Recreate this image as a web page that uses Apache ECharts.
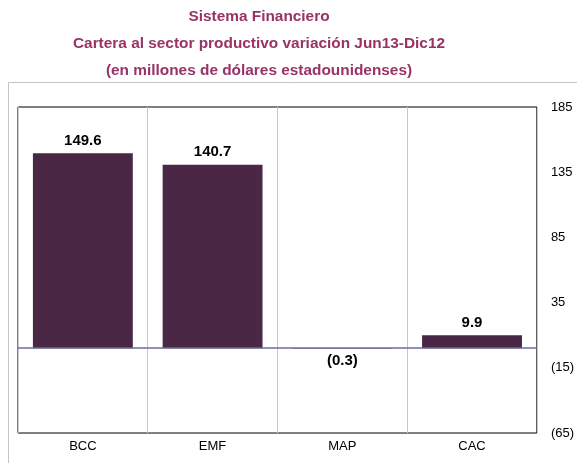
<!DOCTYPE html>
<html><head><meta charset="utf-8">
<script src="https://cdn.jsdelivr.net/npm/echarts@6/dist/echarts.min.js"></script>
<style>html,body{margin:0;padding:0;background:#fff}#c{width:577px;height:463px}</style>
</head><body><div id="c"></div>
<script>
const categories = ['BCC', 'EMF', 'MAP', 'CAC'];
const values = [149.6, 140.7, -0.3, 9.9];
const tickLabels = ['185', '135', '85', '35', '(15)', '(65)'];
const titleLines = ['Sistema Financiero', 'Cartera al sector productivo variación Jun13-Dic12', '(en millones de dólares estadounidenses)'];

const fmt = v => v < 0 ? '(' + Math.abs(v).toFixed(1) + ')' : v.toFixed(1);
const chart = echarts.init(document.getElementById('c'), null, {renderer: 'canvas'});
const titleColor = '#993366';
chart.setOption({
  animation: false,
  backgroundColor: '#fff',
  textStyle: {fontFamily: 'Liberation Sans, Arial, sans-serif'},
  graphic: [
    {type: 'rect', shape: {x: 8.5, y: 82.5, width: 620, height: 420}, style: {fill: 'none', stroke: '#c4c4c4', lineWidth: 1}, z: 0, silent: true},
    ...titleLines.map((t, i) => ({
      type: 'text', x: 259, y: 17 + i * 27,
      style: {text: t, fill: titleColor, font: 'bold 15.4px Liberation Sans, Arial, sans-serif', textAlign: 'center', textVerticalAlign: 'middle'}
    }))
  ],
  grid: {left: 18, right: 37, top: 107, bottom: 30, show: true, borderColor: '#000', borderWidth: 1, backgroundColor: 'transparent'},
  xAxis: {
    type: 'category', data: categories, boundaryGap: true,
    axisLine: {show: false}, axisTick: {show: false},
    axisLabel: {color: '#000', fontSize: 13, margin: 7},
    splitLine: {show: true, interval: 0, lineStyle: {color: '#c8c8c8', width: 1}}
  },
  yAxis: [
    {type: 'value', min: -65, max: 185, show: false, splitLine: {show: false}},
    {type: 'value', position: 'right', min: 0, max: 5, interval: 1,
     axisLine: {show: false}, axisTick: {show: false}, splitLine: {show: false},
     axisLabel: {color: '#000', fontSize: 13, margin: 14, formatter: v => tickLabels[5 - v]}}
  ],
  series: [{
    type: 'bar', yAxisIndex: 0, data: values, barWidth: '77%',
    itemStyle: {color: '#4a2745'},
    label: {show: true, position: 'outside', formatter: p => fmt(p.value), color: '#000', fontWeight: 'bold', fontSize: 15, distance: 5},
    markLine: {
      silent: true, symbol: 'none', label: {show: false},
      lineStyle: {color: '#6b6ba3', width: 1.5, type: 'solid'},
      data: [{yAxis: 0}]
    }
  }]
});
</script></body></html>
